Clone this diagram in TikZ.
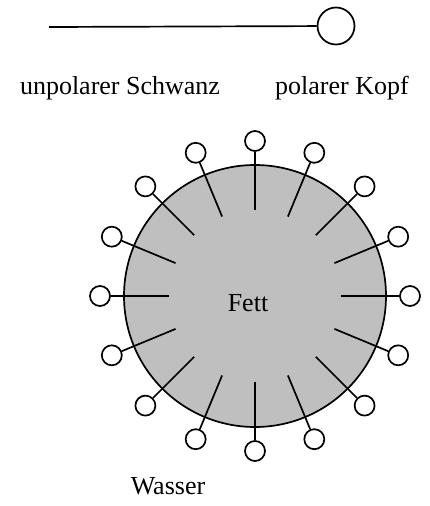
\documentclass[tikz,border=0pt]{standalone}
\usepackage{fontspec}
\setmainfont{Liberation Serif}
\usetikzlibrary{calc}
\tikzset{
  lbl/.style={font=\fontsize{26}{30}\selectfont, inner sep=0pt},
  head/.style={circle, draw, fill=white, line width=1.7pt, minimum size=20pt, inner sep=0pt},
  bighead/.style={circle, draw, fill=white, line width=1.7pt, minimum size=37pt, inner sep=0pt},
  tail/.style={line width=1.7pt},
  fat/.style={circle, draw, fill=black!25, line width=1.7pt, minimum size=262pt, inner sep=0pt}
}
\begin{document}
\begin{tikzpicture}[x=1pt, y=-1pt]
\useasboundingbox (0,0) rectangle (429,506);
% single surfactant molecule with legend
\coordinate (tailend) at (49,27);
\node[bighead] (kopf) at (336,26) {};
\draw[tail] (tailend) -- (kopf);
\node[lbl, anchor=base] (lschwanz) at (120,94) {unpolarer Schwanz};
\node[lbl, anchor=base] (lkopf) at (342,94) {polarer Kopf};
% micelle: fat droplet with surfactants around it
\node[fat] (fett) at (255,296) {};
\node[lbl] (lfett) at (248,303) {Fett};
\foreach \a [count=\i] in {0,22.5,...,337.5} {
  \coordinate (t\i) at ($(fett.center)+(\a:86)$);
  \node[head] (h\i) at ($(fett.center)+(\a:155)$) {};
  \draw[tail] (t\i) -- (h\i);
}
\node[lbl, anchor=base] (lwasser) at (168,494) {Wasser};
\end{tikzpicture}
\end{document}
